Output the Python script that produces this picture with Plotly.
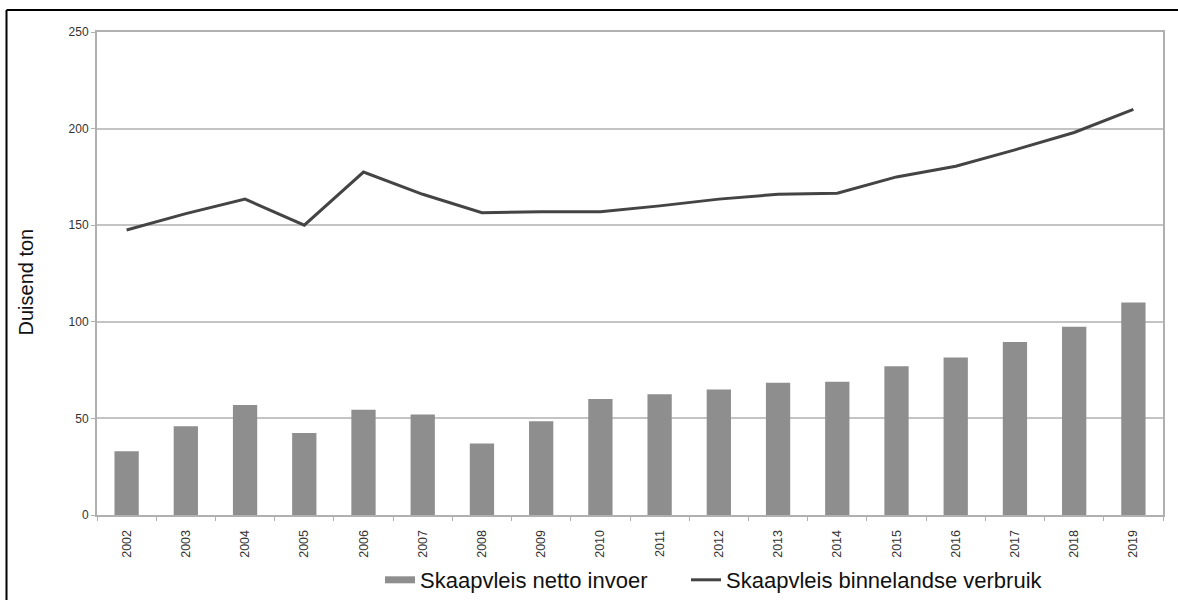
import plotly.graph_objects as go

# Jaarlikse skaapvleisdata (duisend ton)
years = [str(y) for y in range(2002, 2020)]
netto_invoer = [33, 46, 57, 42.5, 54.5, 52, 37, 48.5, 60, 62.5, 65, 68.5, 69, 77, 81.5, 89.5, 97.5, 110]
binnelandse_verbruik = [147.5, 156, 163.5, 150, 177.5, 166, 156.5, 157, 157, 160, 163.5, 166, 166.5, 175, 180.5, 189, 198, 210]

y_ticks = [0, 50, 100, 150, 200, 250]

bar_color = "#8e8e8e"
line_color = "#444444"
grid_color = "#c4c4c4"

W, H = 1178, 600
L, R, T, B = 97, 15, 32, 85
PW, PH = W - L - R, H - T - B


def px_x(p):
    return (p - L) / PW


def px_y(p):
    return (H - B - p) / PH


fig = go.Figure()

fig.add_trace(go.Bar(
    x=years, y=netto_invoer,
    marker=dict(color=bar_color, line=dict(width=0)),
    showlegend=False,
    name="Skaapvleis netto invoer",
))
fig.add_trace(go.Scatter(
    x=years, y=binnelandse_verbruik,
    mode="lines",
    line=dict(color=line_color, width=3),
    showlegend=False,
    name="Skaapvleis binnelandse verbruik",
))

# legend entries: thick bar swatch and thin line swatch
fig.add_trace(go.Scatter(
    x=[None], y=[None], mode="lines",
    line=dict(color=bar_color, width=7),
    name="Skaapvleis netto invoer",
    legend="legend",
))
fig.add_trace(go.Scatter(
    x=[None], y=[None], mode="lines",
    line=dict(color=line_color, width=3),
    name="Skaapvleis binnelandse verbruik",
    legend="legend2",
))

legend_style = dict(
    orientation="h",
    xanchor="left",
    y=px_y(580), yanchor="middle",
    font=dict(size=22, color="#111111"),
    itemwidth=30,
    bgcolor="rgba(0,0,0,0)",
)

fig.update_layout(
    width=W, height=H,
    margin=dict(l=L, r=R, t=T, b=B, autoexpand=False),
    paper_bgcolor="white",
    plot_bgcolor="white",
    bargap=0.59,
    font=dict(family="Liberation Sans, Arial, sans-serif", color="#222222"),
    legend=dict(x=px_x(380), **legend_style),
    legend2=dict(x=px_x(686), **legend_style),
    annotations=[
        dict(text="Duisend ton", textangle=-90,
             xref="paper", yref="paper",
             x=px_x(25.5), y=px_y(282),
             xanchor="center", yanchor="middle",
             showarrow=False,
             font=dict(size=20, color="#111111")),
    ],
    shapes=[
        # outer frame: top and left edges
        dict(type="line", xref="paper", yref="paper",
             x0=px_x(6.5), x1=px_x(W),
             y0=px_y(10), y1=px_y(10),
             line=dict(color="black", width=2)),
        dict(type="line", xref="paper", yref="paper",
             x0=px_x(6.5), x1=px_x(6.5),
             y0=px_y(10), y1=px_y(H + 2),
             line=dict(color="black", width=2)),
    ],
)

fig.update_xaxes(
    type="category",
    tickangle=-90,
    tickfont=dict(size=12.5, color="#333333"),
    tickson="boundaries",
    ticks="outside", ticklen=4, tickcolor="#b0b0b0",
    ticklabelstandoff=8,
    showgrid=False,
    showline=True, linecolor="#b0b0b0", linewidth=2,
    mirror=True,
    automargin=False,
)
fig.update_yaxes(
    range=[0, 250],
    tickvals=y_ticks,
    tickfont=dict(size=12, color="#333333"),
    ticks="outside", ticklen=4, tickcolor="#b0b0b0",
    showgrid=True, gridcolor=grid_color, gridwidth=2,
    showline=True, linecolor="#b0b0b0", linewidth=2,
    mirror=True,
    zeroline=False,
    automargin=False,
)

fig.write_html("out.html")
